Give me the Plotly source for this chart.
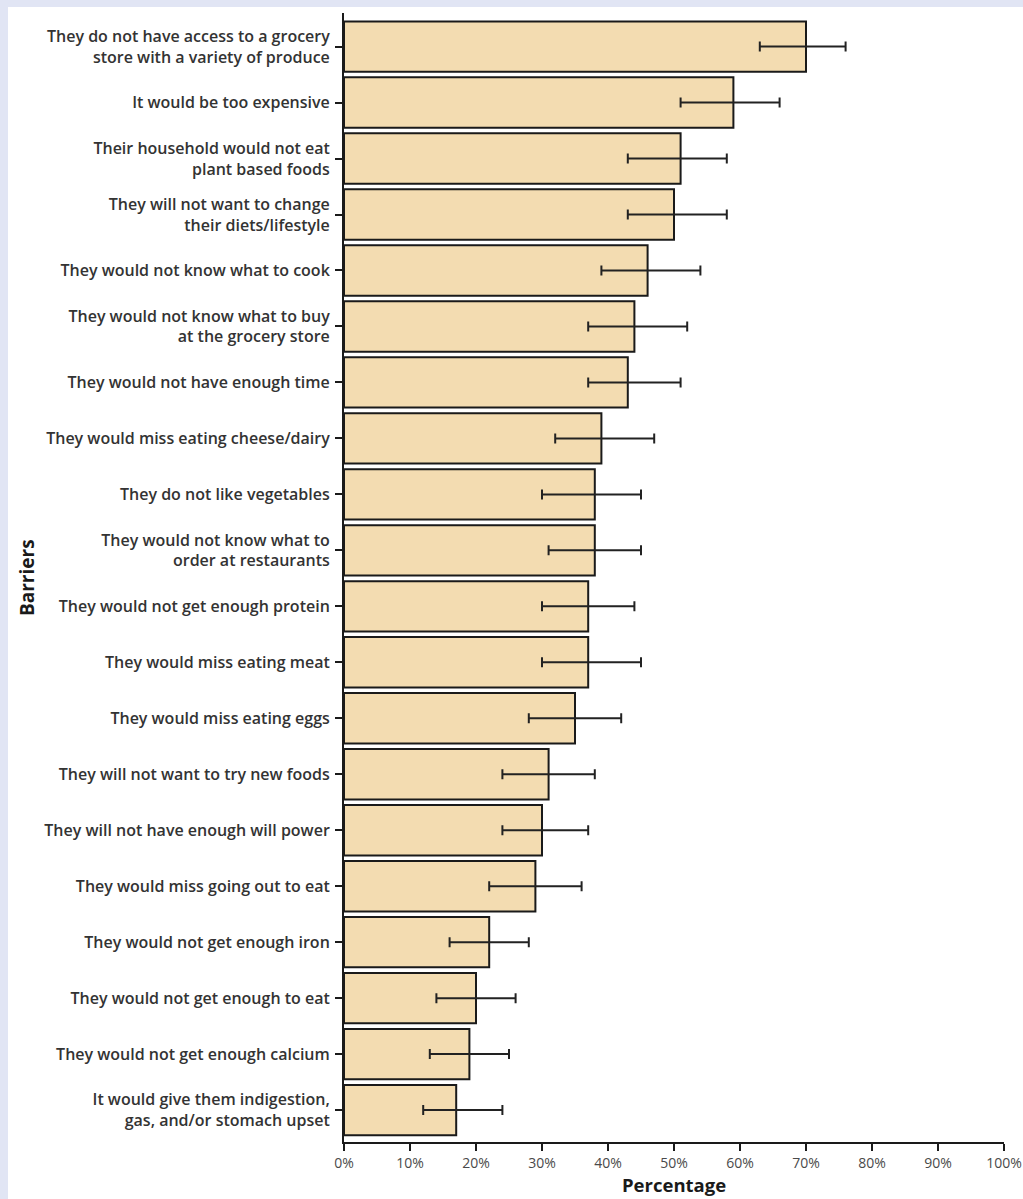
import plotly.graph_objects as go

categories = [
    "They do not have access to a grocery<br>store with a variety of produce",
    "It would be too expensive",
    "Their household would not eat<br>plant based foods",
    "They will not want to change<br>their diets/lifestyle",
    "They would not know what to cook",
    "They would not know what to buy<br>at the grocery store",
    "They would not have enough time",
    "They would miss eating cheese/dairy",
    "They do not like vegetables",
    "They would not know what to<br>order at restaurants",
    "They would not get enough protein",
    "They would miss eating meat",
    "They would miss eating eggs",
    "They will not want to try new foods",
    "They will not have enough will power",
    "They would miss going out to eat",
    "They would not get enough iron",
    "They would not get enough to eat",
    "They would not get enough calcium",
    "It would give them indigestion,<br>gas, and/or stomach upset",
]
values = [70, 59, 51, 50, 46, 44, 43, 39, 38, 38, 37, 37, 35, 31, 30, 29, 22, 20, 19, 17]
ci_low = [63, 51, 43, 43, 39, 37, 37, 32, 30, 31, 30, 30, 28, 24, 24, 22, 16, 14, 13, 12]
ci_high = [76, 66, 58, 58, 54, 52, 51, 47, 45, 45, 44, 45, 42, 38, 37, 36, 28, 26, 25, 24]
x_ticks = [0, 10, 20, 30, 40, 50, 60, 70, 80, 90, 100]
x_tick_labels = ["0%", "10%", "20%", "30%", "40%", "50%", "60%", "70%", "80%", "90%", "100%"]

err_plus = [h - v for h, v in zip(ci_high, values)]
err_minus = [v - l for v, l in zip(values, ci_low)]

W, H = 1023, 1199
L, R, T, B = 344, 19, 13, 57
pw, ph = W - L - R, H - T - B

def px_x(p):
    return (p - L) / pw

def px_y(p):
    return (H - B - p) / ph

fig = go.Figure()
fig.add_trace(go.Bar(
    y=categories,
    x=values,
    orientation="h",
    width=0.9,
    marker=dict(color="#f3dcb1", line=dict(color="#1a1a1a", width=2)),
    error_x=dict(type="data", array=err_plus, arrayminus=err_minus,
                 color="#222222", thickness=2, width=5),
    showlegend=False,
))

fig.update_layout(
    width=W, height=H,
    margin=dict(l=L, r=R, t=T, b=B, autoexpand=False),
    paper_bgcolor="#e1e5f4",
    plot_bgcolor="white",
    font=dict(family="Open Sans", color="#333333"),
    bargap=0.1,
    shapes=[dict(type="rect", xref="paper", yref="paper", layer="below",
                 x0=px_x(8), x1=px_x(W + 5), y0=px_y(H + 5), y1=px_y(7),
                 fillcolor="white", line=dict(width=0))],
    annotations=[
        dict(text="<b>Percentage</b>", xref="paper", yref="paper",
             x=0.5, y=px_y(1184), xanchor="center", yanchor="middle",
             showarrow=False, font=dict(size=18.5, color="#1a1a1a", family="Open Sans")),
        dict(text="<b>Barriers</b>", xref="paper", yref="paper",
             x=px_x(27), y=px_y(578), xanchor="center", yanchor="middle",
             textangle=-90, showarrow=False,
             font=dict(size=19, color="#1a1a1a", family="Open Sans")),
    ],
)

fig.update_xaxes(
    range=[0, 100], tickvals=x_ticks, ticktext=x_tick_labels,
    showgrid=False, zeroline=False,
    showline=True, linecolor="#1a1a1a", linewidth=2,
    ticks="outside", ticklen=7, tickwidth=2, tickcolor="#1a1a1a",
    tickfont=dict(size=14, color="#4a4a4a", family="Open Sans"),
    ticklabeloverflow="allow",
)
fig.update_yaxes(
    range=[19.57, -0.6], showgrid=False, zeroline=False,
    showline=True, linecolor="#1a1a1a", linewidth=2,
    ticks="outside", ticklen=7, tickwidth=2, tickcolor="#1a1a1a",
    tickfont=dict(size=16, color="#333333", family="Open Sans", weight=600),
    ticklabelstandoff=2,
)

fig.write_html("out.html")
